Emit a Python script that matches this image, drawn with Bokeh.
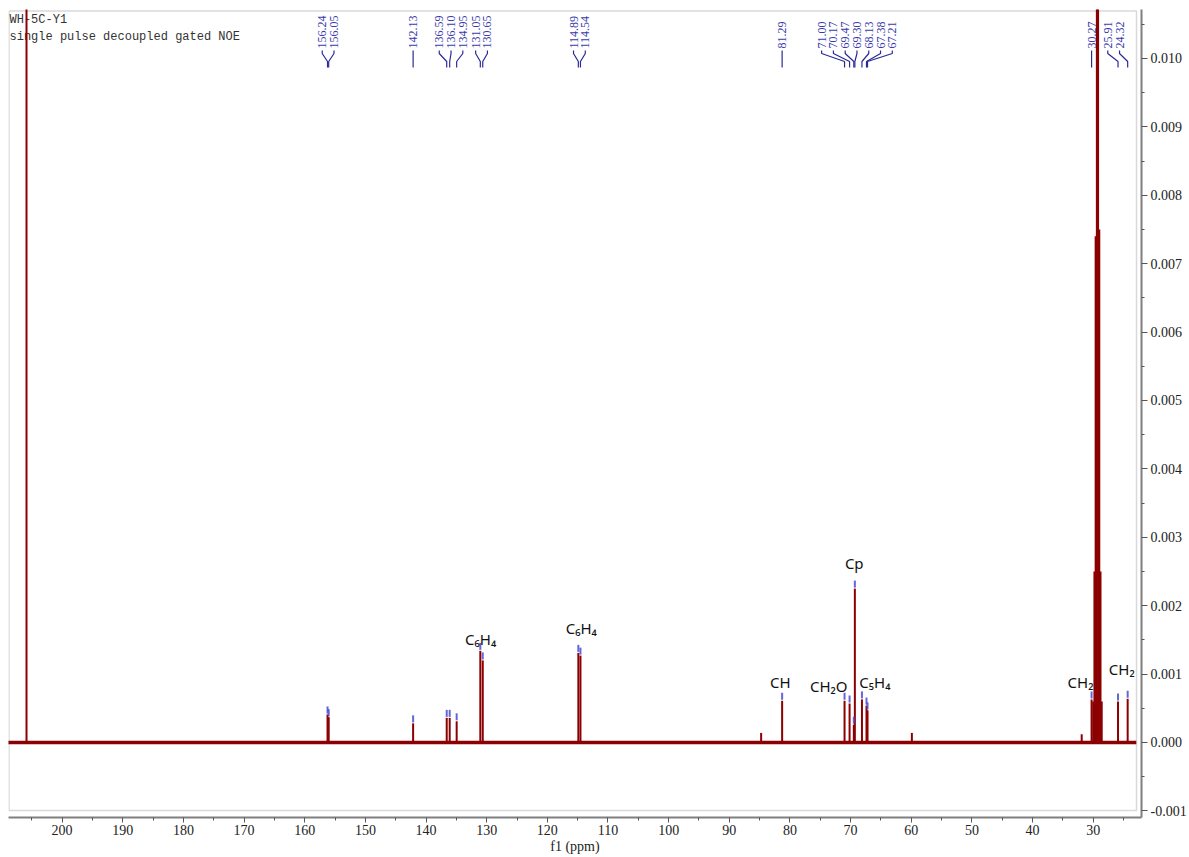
import math
from bokeh.plotting import figure
from bokeh.models import Range1d, FixedTicker, PrintfTickFormatter
from bokeh.core.properties import value
from bokeh.embed import file_html
from bokeh.resources import INLINE

# ---------------- data ----------------
title_lines = ["WH-5C-Y1", "single pulse decoupled gated NOE"]
x_title = "f1 (ppm)"

# spectrum extent (ppm) and baseline
spectrum_start = 209.0
spectrum_end = 22.9

# individual resonances: position (ppm), intensity, picked (labelled) or not
peak_ppm = [205.87, 156.24, 156.05, 142.13, 136.59, 136.10, 134.95, 131.05, 130.65,
            114.89, 114.54, 84.75, 81.29, 71.00, 70.17, 69.47, 69.30, 68.13, 67.38,
            67.21, 59.90, 31.90, 30.27, 25.91, 24.32]
peak_height = [0.0125, 0.00041, 0.00037, 0.00028, 0.00036, 0.00036, 0.00031, 0.00134, 0.00120,
               0.00131, 0.00127, 0.00014, 0.00061, 0.00061, 0.00057, 0.00026, 0.00225, 0.00063,
               0.00054, 0.00047, 0.00014, 0.00012, 0.00063, 0.00060, 0.00064]
peak_picked = [False, True, True, True, True, True, True, True, True,
               True, True, False, True, True, True, True, True, True, True,
               True, False, False, True, True, True]

# solvent multiplet
solvent_ppm = [30.00, 29.80, 29.60, 29.40, 29.20, 29.00, 28.80, 28.60]
solvent_height = [0.0006, 0.0025, 0.0074, 0.0125, 0.0125, 0.0075, 0.0025, 0.0006]

# group assignments
group_names = ["C\u2086H\u2084", "C\u2086H\u2084", "CH", "CH\u2082O", "Cp", "C\u2085H\u2084", "CH\u2082", "CH\u2082"]
group_ppm = [131.0, 114.4, 81.6, 73.6, 69.4, 66.0, 32.1, 25.3]
group_y = [0.00152, 0.00168, 0.00089, 0.00082, 0.00262, 0.00089, 0.00089, 0.00107]

x_ticks = [30, 40, 50, 60, 70, 80, 90, 100, 110, 120, 130, 140, 150, 160, 170, 180, 190, 200]
x_minor = [25, 35, 45, 55, 65, 75, 85, 95, 105, 115, 125, 135, 145, 155, 165, 175, 185, 195, 205]
y_ticks = [-0.001, 0.000, 0.001, 0.002, 0.003, 0.004, 0.005, 0.006, 0.007, 0.008, 0.009, 0.010]
y_minor = [-0.0005, 0.0005, 0.0015, 0.0025, 0.0035, 0.0045, 0.0055, 0.0065, 0.0075,
           0.0085, 0.0095, 0.0105]

# ---------------- layout ----------------
W, H = 1189, 857
FL, FR, FT, FB = 8, 1143, 9, 817        # frame edges in canvas pixels
X0, X1 = 208.84, 22.04
Y0, Y1 = -0.0010965, 0.010716


def ppm_at(px):
    return X0 + (px - FL) / (FR - FL) * (X1 - X0)


def px_of(ppm):
    return FL + (X0 - ppm) / (X0 - X1) * (FR - FL)


def val_at(py):
    return Y1 - (py - FT) / (FB - FT) * (Y1 - Y0)


PXV = (Y1 - Y0) / (FB - FT)  # data units per pixel (vertical)

p = figure(width=W, height=H, x_range=Range1d(X0, X1), y_range=Range1d(Y0, Y1),
           output_backend="svg", toolbar_location=None,
           x_axis_location="below", y_axis_location="right",
           min_border_left=FL, min_border_top=FT, min_border_right=W - FR,
           min_border_bottom=H - FB)
p.outline_line_color = None
p.xgrid.visible = False
p.ygrid.visible = False
p.background_fill_color = "white"
p.border_fill_color = "white"

# axes
AX = "#7f7f7f"
for ax in (p.xaxis[0], p.yaxis[0]):
    ax.axis_line_color = AX
    ax.axis_line_width = 2
    ax.major_tick_line_color = "#555555"
    ax.minor_tick_line_color = "#555555"
    ax.major_tick_in = 0
    ax.minor_tick_in = 0
    ax.major_label_text_font = "Liberation Serif"
    ax.major_label_text_font_size = "14px"
    ax.major_label_text_color = "#222222"
    ax.major_label_standoff = 3

p.xaxis.ticker = FixedTicker(ticks=x_ticks, minor_ticks=x_minor)
p.xaxis.major_tick_out = 5
p.xaxis.minor_tick_out = 3
p.xaxis.major_label_standoff = 2
p.xaxis.axis_label = x_title
p.xaxis.axis_label_text_font = "Liberation Serif"
p.xaxis.axis_label_text_font_size = "14px"
p.xaxis.axis_label_text_font_style = "normal"
p.xaxis.axis_label_text_color = "#222222"
p.xaxis.axis_label_standoff = 1
p.yaxis.ticker = FixedTicker(ticks=y_ticks, minor_ticks=y_minor)
p.yaxis.formatter = PrintfTickFormatter(format="%.3f")
p.yaxis.major_tick_out = 6
p.yaxis.minor_tick_out = 3

# light frame box
p.quad(left=[ppm_at(8.5)], right=[ppm_at(1138)], top=[val_at(10.5)], bottom=[val_at(810)],
       fill_color=None, line_color="#d9d9d9", line_width=1.5)

# title text
p.text(x=[ppm_at(9), ppm_at(9)], y=[val_at(12), val_at(29)], text=title_lines,
       text_font=value("Liberation Mono"), text_font_size="12px", text_color="#333333",
       text_align="left", text_baseline="top")

# spectrum
RED = "#8b0000"
p.segment(x0=[spectrum_start], x1=[spectrum_end], y0=[0], y1=[0], line_color=RED, line_width=3.5)
p.segment(x0=peak_ppm, x1=peak_ppm, y0=[0] * len(peak_ppm), y1=peak_height,
          line_color=RED, line_width=2)
p.segment(x0=solvent_ppm, x1=solvent_ppm, y0=[0] * len(solvent_ppm), y1=solvent_height,
          line_color=RED, line_width=2)

# peak picking markers
pk = [(x, h) for x, h, f in zip(peak_ppm, peak_height, peak_picked) if f]
pk_x = [x for x, h in pk]
pk_h = [h for x, h in pk]
p.segment(x0=pk_x, x1=pk_x, y0=[h + 1 * PXV for h in pk_h], y1=[h + 8 * PXV for h in pk_h],
          line_color="#4a4ad0", line_alpha=0.85, line_width=2)


# label layout (spread labels apart)
def spread(xs, gap, xmax):
    groups = [[x] for x in xs]

    def lay(g):
        n = len(g)
        start = sum(g) / n - (n - 1) / 2 * gap
        start = min(start, xmax - (n - 1) * gap)
        return [start + k * gap for k in range(n)]

    changed = True
    while changed:
        changed = False
        for i in range(len(groups) - 1):
            a, b = lay(groups[i]), lay(groups[i + 1])
            if a[-1] + gap > b[0] + 1e-9:
                groups[i] = groups[i] + groups[i + 1]
                del groups[i + 1]
                changed = True
                break
    out = []
    for g in groups:
        out += lay(g)
    return out


peak_px = [px_of(x) for x in pk_x]
label_px = spread(peak_px, 11.8, 1121)
label_x = [ppm_at(v) for v in label_px]
BLUE = "#2a2a96"
p.text(x=label_x, y=[val_at(48)] * len(label_x), text=[f"{x:.2f}" for x in pk_x],
       angle=math.pi / 2, text_font=value("Liberation Serif"), text_font_size="12px",
       text_color="#3b3bab", text_align="left", text_baseline="middle")
xs, ys = [], []
for lx, px in zip(label_x, pk_x):
    xs.append([lx, lx, px, px])
    ys.append([val_at(50), val_at(53), val_at(61), val_at(67)])
p.multi_line(xs=xs, ys=ys, line_color=BLUE, line_width=1.2)

# group annotations
p.text(x=group_ppm, y=group_y, text=group_names, text_font=value("Noto Sans"),
       text_font_size="15px", text_color="#111111", text_align="center", text_baseline="middle")

open("out.html", "w").write(file_html(p, INLINE))
